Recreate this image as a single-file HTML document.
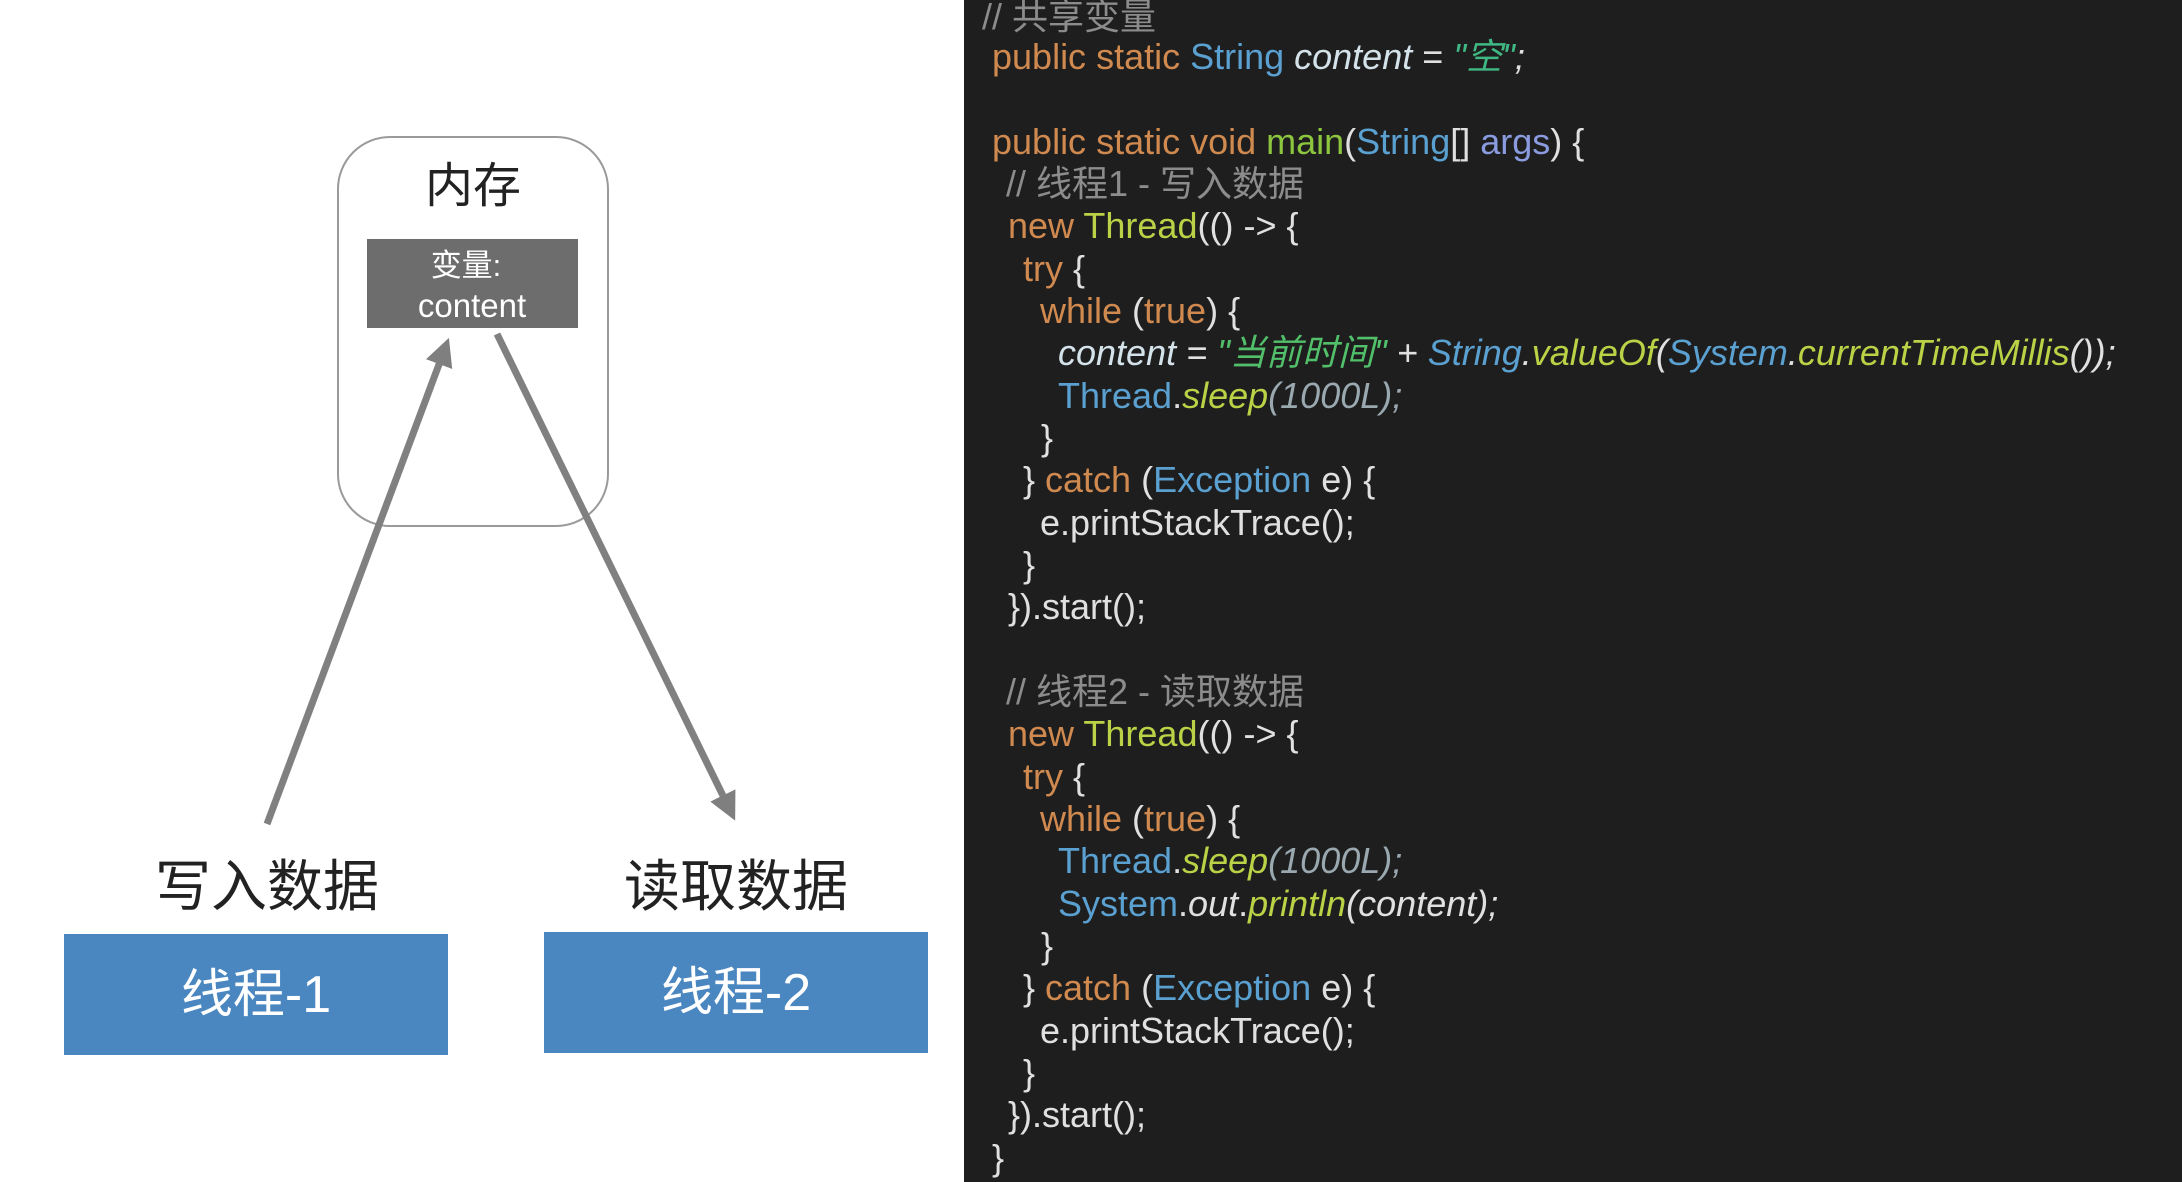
<!DOCTYPE html>
<html><head><meta charset="utf-8">
<style>
html,body{margin:0;padding:0;width:2182px;height:1182px;overflow:hidden;background:#fff;}
#code{position:absolute;left:964px;top:0;width:1218px;height:1182px;background:#1e1e1e;}
.l{position:absolute;white-space:pre;font-family:"Liberation Sans","Noto Sans CJK SC",sans-serif;font-size:36px;line-height:42px;height:42px;color:#e0e0e0;}
.k{color:#d0894f}.t{color:#5aa0d0}.g{color:#3fb884}.m{color:#8cc63f}.y{color:#b9d246}.a{color:#8a9be0}.c{color:#8c8c8c}.i{font-style:italic}.v{color:#d4e2ea}.s{color:#52c06a}.n{color:#9aa8b0}
</style></head><body>
<svg width="964" height="1182" style="position:absolute;left:0;top:0" xmlns="http://www.w3.org/2000/svg">
<defs>
<marker id="ah" markerWidth="4" markerHeight="4" refX="2" refY="2" orient="auto" markerUnits="strokeWidth"><path d="M0,0 L4,2 L0,4 Z" fill="#7f7f7f"/></marker>
</defs>
<rect x="338" y="137" width="270" height="389" rx="52" ry="52" fill="none" stroke="#9a9a9a" stroke-width="2"/>
<text x="473" y="202" text-anchor="middle" font-family="Liberation Sans,Noto Sans CJK SC,sans-serif" font-size="48" fill="#222">内存</text>
<rect x="367" y="239" width="211" height="89" fill="#6d6d6d"/>
<text x="466" y="276" text-anchor="middle" font-family="Liberation Sans,Noto Sans CJK SC,sans-serif" font-size="31" fill="#fff">变量:</text>
<text x="472" y="317" text-anchor="middle" font-family="Liberation Sans,Noto Sans CJK SC,sans-serif" font-size="33" fill="#fff">content</text>
<line x1="267" y1="824" x2="444" y2="351" stroke="#808080" stroke-width="7" marker-end="url(#ah)"/>
<line x1="497" y1="334" x2="729" y2="808" stroke="#808080" stroke-width="7" marker-end="url(#ah)"/>
<text x="267" y="906" text-anchor="middle" font-family="Liberation Sans,Noto Sans CJK SC,sans-serif" font-size="56" fill="#222">写入数据</text>
<text x="736" y="906" text-anchor="middle" font-family="Liberation Sans,Noto Sans CJK SC,sans-serif" font-size="56" fill="#222">读取数据</text>
<rect x="64" y="934" width="384" height="121" fill="#4a86c0"/>
<rect x="544" y="932" width="384" height="121" fill="#4a86c0"/>
<text x="256" y="1012" text-anchor="middle" font-family="Liberation Sans,Noto Sans CJK SC,sans-serif" font-size="52" fill="#fff">线程-1</text>
<text x="736" y="1010" text-anchor="middle" font-family="Liberation Sans,Noto Sans CJK SC,sans-serif" font-size="52" fill="#fff">线程-2</text>
</svg>
<div id="code"></div>
<div class="l c" style="left:982px;top:-4px">// 共享变量</div>
<div class="l" style="left:992px;top:36px"><span class="k">public static </span><span class="t">String </span><span class="v i">content</span> = <span class="g i">"空"</span><span class="i">;</span></div>
<div class="l" style="left:992px;top:121px"><span class="k">public static void </span><span class="m">main</span>(<span class="t">String</span>[] <span class="a">args</span>) {</div>
<div class="l c" style="left:1006px;top:163px">// 线程1 - 写入数据</div>
<div class="l" style="left:1008px;top:205px"><span class="k">new </span><span class="y">Thread</span>(() -&gt; {</div>
<div class="l" style="left:1023px;top:248px"><span class="k">try</span> {</div>
<div class="l" style="left:1040px;top:290px"><span class="k">while </span>(<span class="k">true</span>) {</div>
<div class="l i" style="left:1058px;top:332px"><span class="v">content</span> = <span class="s">"当前时间"</span> + <span class="t">String</span>.<span class="y">valueOf</span>(<span class="t">System</span>.<span class="y">currentTimeMillis</span>());</div>
<div class="l" style="left:1058px;top:375px"><span class="t">Thread</span>.<span class="y i">sleep</span><span class="n i">(1000L);</span></div>
<div class="l" style="left:1041px;top:417px">}</div>
<div class="l" style="left:1023px;top:459px">} <span class="k">catch </span>(<span class="t">Exception</span> e) {</div>
<div class="l" style="left:1040px;top:502px">e.printStackTrace();</div>
<div class="l" style="left:1023px;top:544px">}</div>
<div class="l" style="left:1008px;top:586px">}).start();</div>
<div class="l c" style="left:1006px;top:671px">// 线程2 - 读取数据</div>
<div class="l" style="left:1008px;top:713px"><span class="k">new </span><span class="y">Thread</span>(() -&gt; {</div>
<div class="l" style="left:1023px;top:756px"><span class="k">try</span> {</div>
<div class="l" style="left:1040px;top:798px"><span class="k">while </span>(<span class="k">true</span>) {</div>
<div class="l" style="left:1058px;top:840px"><span class="t">Thread</span>.<span class="y i">sleep</span><span class="n i">(1000L);</span></div>
<div class="l" style="left:1058px;top:883px"><span class="t">System</span>.<span class="i">out</span>.<span class="y i">println</span><span class="i">(content);</span></div>
<div class="l" style="left:1041px;top:925px">}</div>
<div class="l" style="left:1023px;top:967px">} <span class="k">catch </span>(<span class="t">Exception</span> e) {</div>
<div class="l" style="left:1040px;top:1010px">e.printStackTrace();</div>
<div class="l" style="left:1023px;top:1052px">}</div>
<div class="l" style="left:1008px;top:1094px">}).start();</div>
<div class="l" style="left:992px;top:1137px">}</div>
</body></html>
